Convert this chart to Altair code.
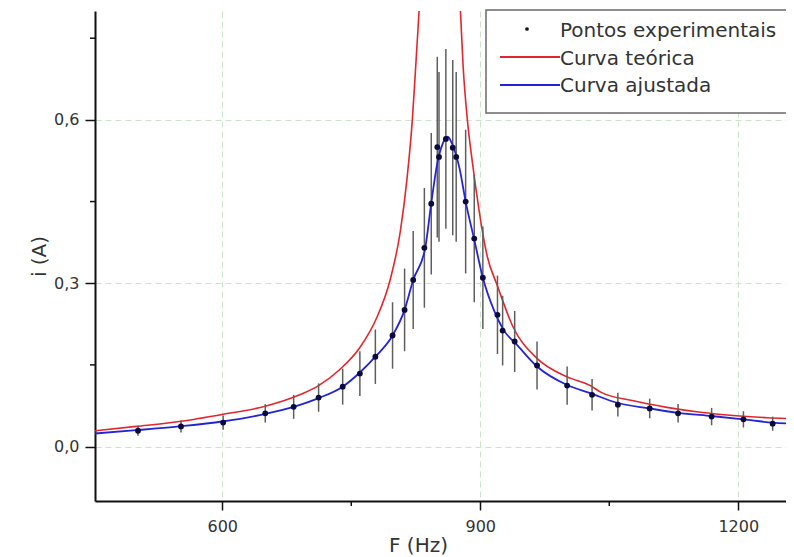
import altair as alt
import pandas as pd

# ---- data ----
# experimental points: frequency (Hz), current (A), error (A)
F_pts = [502, 552, 601, 650, 683, 712, 740, 760, 778, 798, 812, 822, 835, 843,
         850, 852, 860, 868, 872, 883, 893, 903, 920, 926, 940, 966, 1001, 1030,
         1060, 1097, 1130, 1169, 1206, 1240]
i_pts = [0.029, 0.037, 0.044, 0.061, 0.073, 0.090, 0.110, 0.134, 0.165, 0.204,
         0.251, 0.306, 0.365, 0.446, 0.550, 0.532, 0.565, 0.549, 0.532, 0.450,
         0.382, 0.310, 0.242, 0.213, 0.193, 0.149, 0.112, 0.095, 0.077, 0.070,
         0.061, 0.055, 0.050, 0.042]
err_pts = [0.009, 0.011, 0.013, 0.017, 0.022, 0.026, 0.033, 0.041, 0.050, 0.061,
           0.076, 0.090, 0.110, 0.130, 0.166, 0.156, 0.165, 0.161, 0.156, 0.132,
           0.117, 0.094, 0.072, 0.064, 0.056, 0.044, 0.035, 0.029, 0.022, 0.018,
           0.017, 0.016, 0.015, 0.013]

# theoretical curve (two visible branches, peak is above the plot)
F_teo_esq = [452, 500, 550, 600, 650, 690, 712, 737, 760, 780, 795, 807, 815, 821, 825, 830]
i_teo_esq = [0.029, 0.037, 0.046, 0.059, 0.074, 0.095, 0.112, 0.142, 0.182, 0.238,
             0.305, 0.395, 0.495, 0.600, 0.700, 0.830]
F_teo_dir = [876, 880, 885, 891, 898, 902, 908, 920, 938, 966, 1001, 1028, 1040,
             1078, 1117, 1156, 1194, 1234, 1265]
i_teo_dir = [0.830, 0.700, 0.600, 0.520, 0.440, 0.400, 0.350, 0.295, 0.220, 0.162,
             0.128, 0.112, 0.100, 0.084, 0.072, 0.063, 0.057, 0.053, 0.051]

# fitted curve
F_fit = [452, 500, 550, 600, 650, 683, 712, 740, 760, 778, 798, 812, 822, 836, 843,
         850, 856, 862, 868, 876, 883, 893, 903, 916, 928, 942, 966, 1001, 1028,
         1060, 1097, 1130, 1169, 1206, 1240, 1265]
i_fit = [0.024, 0.030, 0.037, 0.046, 0.060, 0.073, 0.089, 0.110, 0.136, 0.165, 0.204,
         0.251, 0.306, 0.365, 0.447, 0.520, 0.555, 0.569, 0.553, 0.510, 0.450, 0.380,
         0.310, 0.250, 0.212, 0.188, 0.147, 0.113, 0.098, 0.080, 0.070, 0.062, 0.056,
         0.050, 0.044, 0.042]

x_ticks = [600, 900, 1200]
x_minor = [750, 1050]
y_ticks = [0.0, 0.3, 0.6]
y_minor = [0.15, 0.45, 0.75]
legend_labels = ["Pontos experimentais", "Curva teórica", "Curva ajustada"]

# ---- tables ----
pts = pd.DataFrame({"F": F_pts, "i": i_pts, "err": err_pts})
pts["lo"] = pts["i"] - pts["err"]
pts["hi"] = pts["i"] + pts["err"]
teo = pd.concat([
    pd.DataFrame({"F": F_teo_esq, "i": i_teo_esq, "ramo": "esq"}),
    pd.DataFrame({"F": F_teo_dir, "i": i_teo_dir, "ramo": "dir"}),
])
fit = pd.DataFrame({"F": F_fit, "i": i_fit})

W, H = 691, 490
FONT = "DejaVu Sans"
xs = alt.Scale(domain=[452, 1255.5], nice=False, zero=False)
ys = alt.Scale(domain=[-0.1, 0.8], nice=False, zero=False)

x_axis = alt.Axis(values=x_ticks, title="F (Hz)", grid=True, gridColor="#c9e4c9",
                  gridDash=[6, 4], gridWidth=1, tickSize=9, tickColor="#111",
                  tickWidth=1.5, domainColor="#111", domainWidth=2,
                  labelExpr="format(datum.value, 'd')",
                  labelFont=FONT, labelFontSize=16, labelColor="#333", labelPadding=8,
                  titleFont=FONT, titleFontSize=20, titleFontWeight="normal",
                  titleColor="#333", titleX=323, titleY=50, titleBaseline="alphabetic")
y_axis = alt.Axis(values=y_ticks, title="i (A)", grid=True, gridColor="#c9e4c9",
                  gridDash=[6, 4], gridWidth=1, tickSize=10, tickColor="#111",
                  tickWidth=1.5, domainColor="#111", domainWidth=2,
                  labelFont=FONT, labelFontSize=16, labelColor="#333", labelPadding=6,
                  labelExpr="replace(format(datum.value, '.1f'), '.', ',')",
                  titleFont=FONT, titleFontSize=20, titleFontWeight="normal",
                  titleColor="#333", titleX=-56, titleBaseline="middle")

X = alt.X("F:Q", scale=xs, axis=x_axis)
Y = alt.Y("i:Q", scale=ys, axis=y_axis)

teo_line = alt.Chart(teo).mark_line(color="#e3262d", strokeWidth=1.6, clip=True,
                                    interpolate="monotone").encode(
    x=X, y=Y, detail="ramo:N")
fit_line = alt.Chart(fit).mark_line(color="#2424d6", strokeWidth=1.8,
                                    interpolate="monotone").encode(x=X, y=Y)
bars = alt.Chart(pts).mark_rule(color="#5e5e5e", strokeWidth=1.5).encode(
    x=X, y=alt.Y("lo:Q", scale=ys, axis=y_axis), y2="hi:Q")
dots = alt.Chart(pts).mark_circle(size=34, color="#0a0a3c", opacity=1).encode(x=X, y=Y)

xminor = alt.Chart(pd.DataFrame({"F": x_minor})).mark_rule(
    color="#111", strokeWidth=1.5).encode(x=X, y=alt.value(H), y2=alt.value(H + 5))
yminor = alt.Chart(pd.DataFrame({"i": y_minor})).mark_rule(
    color="#111", strokeWidth=1.5).encode(y=Y, x=alt.value(-5), x2=alt.value(0))

top_line = alt.Chart(pd.DataFrame({"a": [0]})).mark_rule(
    color="#8a8a8a", strokeWidth=2).encode(x=alt.value(-73), x2=alt.value(W + 20),
                                           y=alt.value(-4))

# legend (drawn as marks)
one = pd.DataFrame({"a": [0]})
leg_box = alt.Chart(one).mark_rect(fill="white", stroke="#6a6a6a", strokeWidth=1.5).encode(
    x=alt.value(391), x2=alt.value(W + 30), y=alt.value(-1), y2=alt.value(102))
leg_dot = alt.Chart(one).mark_circle(size=14, color="#111", opacity=1).encode(
    x=alt.value(432), y=alt.value(18))
leg_red = alt.Chart(one).mark_rule(color="#e3262d", strokeWidth=1.8).encode(
    x=alt.value(405), x2=alt.value(465), y=alt.value(46))
leg_blue = alt.Chart(one).mark_rule(color="#2424d6", strokeWidth=1.8).encode(
    x=alt.value(405), x2=alt.value(465), y=alt.value(74))
leg_texts = []
for lab, yy in zip(legend_labels, [26, 54, 81]):
    leg_texts.append(
        alt.Chart(pd.DataFrame({"t": [lab]})).mark_text(
            font=FONT, fontSize=20, color="#333", align="left", baseline="alphabetic"
        ).encode(x=alt.value(465), y=alt.value(yy), text="t:N")
    )

chart = alt.layer(
    teo_line, bars, fit_line, dots, xminor, yminor, top_line,
    leg_box, leg_dot, leg_red, leg_blue, *leg_texts
).properties(
    width=W, height=H,
    autosize=alt.AutoSizeParams(type="none"),
    padding={"left": 87, "top": 3, "right": 0, "bottom": 55},
    background="white",
).configure_view(stroke=None)

chart.save("out.html", embed_options={"renderer": "svg", "actions": False})
